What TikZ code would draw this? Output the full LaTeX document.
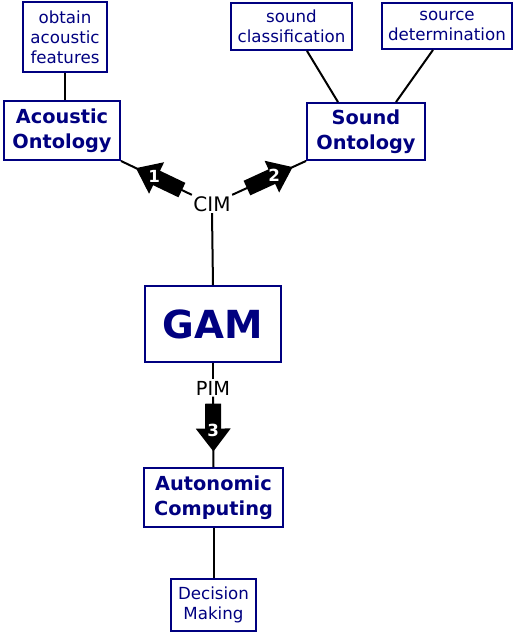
\documentclass[tikz,border=0pt]{standalone}
\usepackage{fontspec}
\setmainfont{DejaVu Sans}
\usepackage{tikz}
\usetikzlibrary{arrows.meta, calc}
\definecolor{navytext}{RGB}{0,0,128}

\begin{document}
\begin{tikzpicture}[x=0.75pt, y=-0.75pt,
  smallbox/.style={draw=navytext, line width=1.4pt, text=navytext, inner sep=0pt, align=center, font=\fontsize{12.5}{15}\selectfont},
  bigbox/.style={draw=navytext, line width=1.4pt, text=navytext, inner sep=0pt, align=center, font=\fontsize{14.5}{18.75}\selectfont\bfseries},
  link/.style={line width=1.5pt, black},
  fatarrow/.style={line width=12pt, black, -{Triangle[length=17.25pt 0 0, width=25pt 0]}},
  numlabel/.style={text=white, font=\fontsize{12.5}{14}\selectfont\bfseries, inner sep=0pt}]
\useasboundingbox (0,0) rectangle (520,633);
\node[smallbox, minimum width=63pt, minimum height=52.5pt] (feat) at (65,37) {obtain\\acoustic\\features};
\node[bigbox, minimum width=87pt, minimum height=44.25pt] (aco) at (62,130.5) {Acoustic\\Ontology};
\node[smallbox, minimum width=90.75pt, minimum height=35.25pt] (cls) at (291.5,26.5) {sound\\classification};
\node[smallbox, minimum width=97.5pt, minimum height=34.5pt] (src) at (447,26) {source\\determination};
\node[bigbox, minimum width=88.5pt, minimum height=42.75pt] (snd) at (366,131.5) {Sound\\Ontology};
\node[inner sep=1pt, font=\fontsize{15}{16}\selectfont] (cim) at (212,204) {CIM};
\node[bigbox, minimum width=102pt, minimum height=57pt, font=\fontsize{29}{32}\selectfont\bfseries] (gam) at (213,324) {GAM};
\node[inner sep=1pt, font=\fontsize{14.5}{16}\selectfont] (pim) at (213,388) {PIM};
\node[bigbox, minimum width=104.25pt, minimum height=44.25pt] (auto) at (213.5,497.5) {Autonomic\\Computing};
\node[smallbox, minimum width=63.75pt, minimum height=39pt] (dec) at (213.5,605) {Decision\\Making};

\draw[link] (feat.south) -- (feat.south |- aco.north);
\draw[link] ($(cls.south)+(15.5,0)$) -- ($(snd.north)+(-28,0)$);
\draw[link] ($(src.south)+(-14,0)$) -- ($(snd.north)+(30,0)$);
\draw[link] (cim.north west) -- (aco.south east);
\draw[link] (cim.north east) -- (snd.south west);
\draw[link] (cim.south) -- (gam.north);
\draw[link] (gam.south) -- (pim.north);
\draw[link] (pim.south) -- (auto.north);
\draw[link] (auto.south) -- (dec.north);

\draw[fatarrow] ($(cim.north west)!0.14!(aco.south east)$) -- ($(cim.north west)!0.79!(aco.south east)$);
\draw[fatarrow] ($(cim.north east)!0.2!(snd.south west)$) -- ($(cim.north east)!0.82!(snd.south west)$);
\draw[fatarrow] ($(pim.south)!0.1!(auto.north)$) -- ($(pim.south)!0.78!(auto.north)$);
\node[numlabel] (n1) at ($(cim.north west)!0.53!(aco.south east)$) {1};
\node[numlabel] (n2) at ($(cim.north east)!0.57!(snd.south west)$) {2};
\node[numlabel] (n3) at ($(pim.south)!0.48!(auto.north)$) {3};
\end{tikzpicture}
\end{document}
